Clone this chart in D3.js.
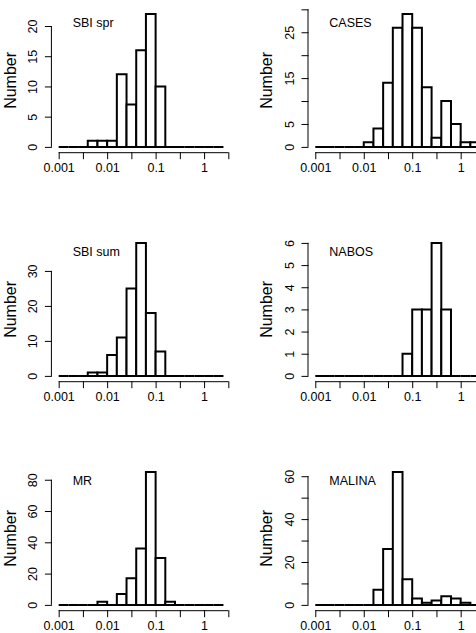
<!DOCTYPE html>
<html>
<head>
<meta charset="utf-8">
<script src="https://cdn.jsdelivr.net/npm/d3@7"></script>
<style>
  html, body { margin: 0; padding: 0; background: #fff; overflow: hidden; }
  svg { display: block; font-family: "Liberation Sans", Arial, Helvetica, sans-serif; }
</style>
</head>
<body>
<svg id="chart" width="476" height="633"></svg>
<script>
// ---- data ----
const panelNames = ["SBI spr", "CASES", "SBI sum", "NABOS", "MR", "MALINA"];
// histogram bin breaks (log-spaced, 0.2 decade)
const binBreaks = [0.001, 0.001585, 0.002512, 0.003981, 0.00631, 0.01, 0.01585, 0.02512, 0.03981,
                   0.0631, 0.1, 0.1585, 0.2512, 0.3981, 0.631, 1, 1.585, 2.512];
const countsSBIspr = [0,0,0,1,1,1,12,7,16,22,10,0,0,0,0,0,0];
const countsCASES  = [0,0,0,0,0,1,4,14,26,29,26,13,2,10,5,1,1];
const countsSBIsum = [0,0,0,1,1,6,11,25,38,18,7,0,0,0,0,0,0];
const countsNABOS  = [0,0,0,0,0,0,0,0,0,1,3,3,6,3,0,0,0];
const countsMR     = [0,0,0,0,2,0,7,17,36,85,30,2,0,0,0,0,0];
const countsMALINA = [0,0,0,0,0,0,7,26,62,12,3,1,2,4,3,1,0];
const xTicks = [0.001, 0.003162, 0.01, 0.03162, 0.1, 0.3162, 1, 3.162];
const xTickLabels = ["0.001", "", "0.01", "", "0.1", "", "1", ""];
const yTicksSBIspr = [0,5,10,15,20];       const yLabelsSBIspr = ["0","5","10","15","20"];
const yTicksCASES  = [0,5,10,15,20,25,30]; const yLabelsCASES  = ["0","5","","15","","25",""];
const yTicksSBIsum = [0,10,20,30];         const yLabelsSBIsum = ["0","10","20","30"];
const yTicksNABOS  = [0,1,2,3,4,5,6];      const yLabelsNABOS  = ["0","1","2","3","4","5","6"];
const yTicksMR     = [0,20,40,60,80];      const yLabelsMR     = ["0","20","40","60","80"];
const yTicksMALINA = [0,10,20,30,40,50,60];const yLabelsMALINA = ["0","","20","","40","","60"];
const yLabel = "Number";

const panels = [
  {name: panelNames[0], counts: countsSBIspr, ticks: yTicksSBIspr, labels: yLabelsSBIspr},
  {name: panelNames[1], counts: countsCASES,  ticks: yTicksCASES,  labels: yLabelsCASES},
  {name: panelNames[2], counts: countsSBIsum, ticks: yTicksSBIsum, labels: yLabelsSBIsum},
  {name: panelNames[3], counts: countsNABOS,  ticks: yTicksNABOS,  labels: yLabelsNABOS},
  {name: panelNames[4], counts: countsMR,     ticks: yTicksMR,     labels: yLabelsMR},
  {name: panelNames[5], counts: countsMALINA, ticks: yTicksMALINA, labels: yLabelsMALINA}
];

// ---- layout ----
const colOff = [0, 256.6];
const rowOff = [0, 229, 458];
const plotL = 51.9, plotW = 183.2, plotT = 8.6, plotH = 143.6;

const svg = d3.select("#chart");

panels.forEach((p, i) => {
  const col = i % 2, row = Math.floor(i / 2);
  const L = plotL + colOff[col], T = plotT + rowOff[row];
  const g = svg.append("g");

  // R-style 4% axis extension
  const lx0 = Math.log10(0.001), lx1 = Math.log10(3.162);
  const ext = (lx1 - lx0) * 0.04;
  const x = d3.scaleLog().domain([Math.pow(10, lx0 - ext), Math.pow(10, lx1 + ext)]).range([L, L + plotW]);
  const ymax = d3.max(p.counts);
  const y = d3.scaleLinear().domain([-0.04 * ymax, 1.04 * ymax]).range([T + plotH, T]);

  // bars (including zero-height bins drawn as flat lines)
  g.selectAll("path.bar").data(p.counts).join("path")
    .attr("class", "bar")
    .attr("d", (c, k) => {
      const x0 = x(binBreaks[k]), x1 = x(binBreaks[k + 1]);
      const y0 = y(0), y1 = y(c);
      return `M${x0},${y0}V${y1}H${x1}V${y0}Z`;
    })
    .attr("fill", "#fff").attr("stroke", "#000").attr("stroke-width", 2)
    .attr("stroke-linejoin", "miter");

  // x axis
  const xa = g.append("g").attr("transform", `translate(0,${T + plotH})`)
    .call(d3.axisBottom(x).tickValues(xTicks).tickFormat((d, k) => xTickLabels[k]).tickSize(7).tickPadding(4).tickSizeOuter(0));
  xa.select(".domain").remove();
  xa.append("line").attr("x1", x(xTicks[0])).attr("x2", x(xTicks[xTicks.length - 1]))
    .attr("y1", 0.5).attr("y2", 0.5).attr("stroke", "#000");
  xa.selectAll(".tick line").attr("stroke", "#000");
  xa.selectAll(".tick text").attr("font-size", 12.5).attr("fill", "#000")
    .attr("font-family", "Liberation Sans, Arial, sans-serif").attr("y", 19.7).attr("dy", 0);

  // y axis
  const ya = g.append("g").attr("transform", `translate(${L},0)`)
    .call(d3.axisLeft(y).tickValues(p.ticks).tickFormat((d, k) => p.labels[k]).tickSize(7).tickSizeOuter(0));
  ya.select(".domain").remove();
  ya.append("line").attr("x1", -0.5).attr("x2", -0.5)
    .attr("y1", y(p.ticks[0])).attr("y2", y(p.ticks[p.ticks.length - 1])).attr("stroke", "#000");
  ya.selectAll(".tick line").attr("stroke", "#000");
  ya.selectAll(".tick text").attr("font-size", 12.5).attr("fill", "#000")
    .attr("font-family", "Liberation Sans, Arial, sans-serif")
    .attr("transform", "rotate(-90)").attr("x", 0).attr("y", -14.8).attr("dy", 0)
    .attr("text-anchor", "middle");

  // y label
  g.append("text")
    .attr("transform", `translate(${15.5 + colOff[col]},${T + plotH / 2}) rotate(-90)`)
    .attr("text-anchor", "middle").attr("font-size", 16).attr("fill", "#000")
    .text(yLabel);

  // panel label
  g.append("text").attr("x", L + 20.8).attr("y", T + 18.1)
    .attr("font-size", 12.5).attr("fill", "#000").text(p.name);
});
</script>
</body>
</html>
